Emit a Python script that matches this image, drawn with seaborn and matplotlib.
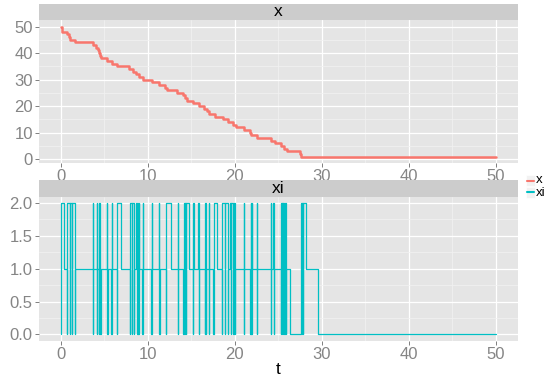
import numpy as np
import pandas as pd
import matplotlib
matplotlib.use("Agg")
import matplotlib.pyplot as plt
import seaborn as sns
from matplotlib.lines import Line2D
from matplotlib.patches import Rectangle
from matplotlib.ticker import MultipleLocator

# ---- data: x (step count) ----
x_t = [0, 0.1, 0.2, 0.73, 0.9, 1.1, 1.65, 3.7, 4.1, 4.3, 4.4, 4.5, 4.6, 5.3, 5.9, 6.5,
       7.9, 8.35, 8.7, 9.0, 9.4, 10.5, 11.3, 12.0, 12.2, 13.4, 14.1, 14.3, 14.5, 15.2,
       15.9, 16.5, 16.8, 17.0, 17.7, 18.6, 19.2, 19.8, 20.2, 21.1, 21.7, 21.9, 22.6,
       24.2, 24.6, 25.3, 25.7, 26.0, 27.5, 27.65, 50]
x_v = [50, 49, 48, 47, 46, 45, 44, 43, 42, 41, 40, 39, 38, 37, 36, 35,
       34, 33, 32, 31, 30, 29, 28, 27, 26, 25, 24, 23, 22, 21,
       20, 19, 18, 17, 16, 15, 14, 13, 12, 11, 10, 9, 8,
       7, 6, 5, 4, 3, 2, 1, 1]

# ---- data: xi (state indicator) ----
xi_t = [0.00, 0.03, 0.35,
        0.70, 0.73, 1.08, 1.11, 1.28, 1.31, 1.66, 1.69,
        3.71, 3.73, 3.76,
        4.15, 4.17, 4.20,
        4.34, 4.36, 4.40, 4.43, 4.55, 4.58,
        5.34, 5.36, 5.39,
        5.83, 5.86, 5.89,
        6.44, 6.47, 6.96,
        7.94, 7.97, 8.19, 8.22, 8.40, 8.43,
        8.70, 8.73, 8.86, 8.90, 9.00, 9.03,
        9.38, 9.41, 9.44,
        10.42, 10.45, 10.48,
        11.30, 11.33, 11.36,
        12.10, 12.13, 12.66,
        13.44, 13.47, 13.50,
        14.08, 14.11, 14.25, 14.28, 14.40, 14.43, 14.76,
        15.20, 15.23, 15.26,
        15.81, 15.84, 15.87,
        16.54, 16.57, 16.66, 16.70, 16.74,
        17.03, 17.06, 17.09,
        17.53, 17.56, 18.00,
        18.56, 18.59, 18.90, 18.93, 19.23, 19.26, 19.40, 19.55, 19.58, 19.85, 19.88, 20.04, 20.07,
        21.05, 21.08, 21.11,
        21.81, 21.84, 21.90, 21.94, 21.98, 22.01,
        22.50, 22.53, 22.56,
        24.11, 24.14, 24.17,
        24.45, 24.48, 24.51,
        25.28, 25.31, 25.40, 25.45, 25.55, 25.60, 25.70, 25.75, 25.85, 25.90, 25.93,
        26.30,
        27.66, 27.70, 27.74, 27.80, 27.84, 28.20,
        29.55, 50.0]
xi_v = [0, 2, 1,
        0, 2, 0, 2, 0, 2, 0, 1,
        0, 2, 1,
        2, 0, 1,
        0, 2, 0, 2, 0, 1,
        2, 0, 1,
        0, 2, 1,
        0, 2, 1,
        0, 2, 0, 2, 0, 1,
        2, 0, 2, 0, 2, 1,
        0, 2, 1,
        0, 2, 1,
        2, 0, 1,
        0, 2, 1,
        0, 2, 1,
        0, 2, 0, 2, 0, 2, 1,
        0, 2, 1,
        2, 0, 1,
        0, 2, 0, 2, 1,
        0, 2, 1,
        0, 2, 1,
        0, 2, 0, 2, 0, 1, 2, 0, 2, 0, 2, 0, 1,
        0, 2, 1,
        0, 2, 0, 2, 0, 1,
        2, 0, 1,
        0, 2, 1,
        2, 0, 1,
        0, 2, 0, 2, 0, 2, 0, 2, 0, 2, 1,
        0,
        2, 0, 2, 0, 2, 1,
        0, 0]

series_names = ["x", "xi"]
colors = {"x": "#F8766D", "xi": "#00BFC4"}

df_x = pd.DataFrame({"t": x_t, "value": x_v})
df_xi = pd.DataFrame({"t": xi_t, "value": xi_v})

sns.set_theme(style="darkgrid")
plt.rcParams["font.family"] = ["Liberation Sans", "DejaVu Sans"]

W, H = 555, 376
fig = plt.figure(figsize=(W / 100, H / 100), dpi=100)
fig.patch.set_facecolor("white")


def rect(l, t, r, b):
    return [l / W, 1 - b / H, (r - l) / W, (b - t) / H]


PL, PR = 39, 517.5
ax1 = fig.add_axes(rect(PL, 20, PR, 163))
ax2 = fig.add_axes(rect(PL, 196.5, PR, 341))
s1 = fig.add_axes(rect(PL, 4, PR, 20))
s2 = fig.add_axes(rect(PL, 180, PR, 196.5))

for s, lab in ((s1, "x"), (s2, "xi")):
    s.set_facecolor("#CCCCCC")
    s.set_xticks([]); s.set_yticks([])
    s.grid(False)
    for sp in s.spines.values():
        sp.set_visible(False)
    s.text(0.5, 0.5, lab, ha="center", va="center", fontsize=12.5, color="black",
           transform=s.transAxes)

sns.lineplot(data=df_x, x="t", y="value", ax=ax1, color=colors["x"],
             drawstyle="steps-post", estimator=None, lw=1.8, legend=False)
sns.lineplot(data=df_xi, x="t", y="value", ax=ax2, color=colors["xi"],
             drawstyle="steps-post", estimator=None, lw=0.9, legend=False)

ax1.set_xlim(-2.5, 52.5)
ax2.set_xlim(-2.5, 52.5)
ax1.set_ylim(1 - 0.05 * 49, 50 + 0.05 * 49)
ax2.set_ylim(-0.1, 2.1)

ax1.set_yticks([0, 10, 20, 30, 40, 50])
ax1.yaxis.set_minor_locator(MultipleLocator(5))
ax2.set_yticks([0, 0.5, 1.0, 1.5, 2.0])
ax2.set_yticklabels(["0.0", "0.5", "1.0", "1.5", "2.0"])
ax2.yaxis.set_minor_locator(MultipleLocator(0.25))

for ax in (ax1, ax2):
    ax.set_facecolor("#E5E5E5")
    ax.set_xticks([0, 10, 20, 30, 40, 50])
    ax.xaxis.set_minor_locator(MultipleLocator(5))
    ax.grid(True, which="major", color="white", lw=0.9)
    ax.grid(True, which="minor", color="#F2F2F2", lw=0.5)
    ax.set_axisbelow(True)
    for sp in ax.spines.values():
        sp.set_visible(False)
    ax.tick_params(which="major", direction="out", length=3, width=0.7,
                   color="#7F7F7F", labelcolor="#858585", labelsize=12, pad=1.5,
                   left=True, bottom=True)
    ax.tick_params(which="minor", length=0)
    ax.set_ylabel("")
    ax.set_xlabel("")

ax2.set_xlabel("t", fontsize=12.5, color="black", labelpad=0)

# legend
label_y = [180.0, 193.5]
for i, name in enumerate(series_names):
    y0 = 175 + i * 11.5
    fig.add_artist(Rectangle((525.5 / W, 1 - (y0 + 11) / H), 9 / W, 11 / H,
                             transform=fig.transFigure, facecolor="#F2F2F2",
                             edgecolor="white", lw=0.5))
    fig.add_artist(Line2D([526.5 / W, 534 / W], [1 - (y0 + 5.5) / H] * 2,
                          transform=fig.transFigure, color=colors[name], lw=1.5))
    fig.text(536 / W, 1 - label_y[i] / H, name, ha="left", va="center",
             fontsize=9.5, color="black")

fig.savefig("out.png", dpi=100)
